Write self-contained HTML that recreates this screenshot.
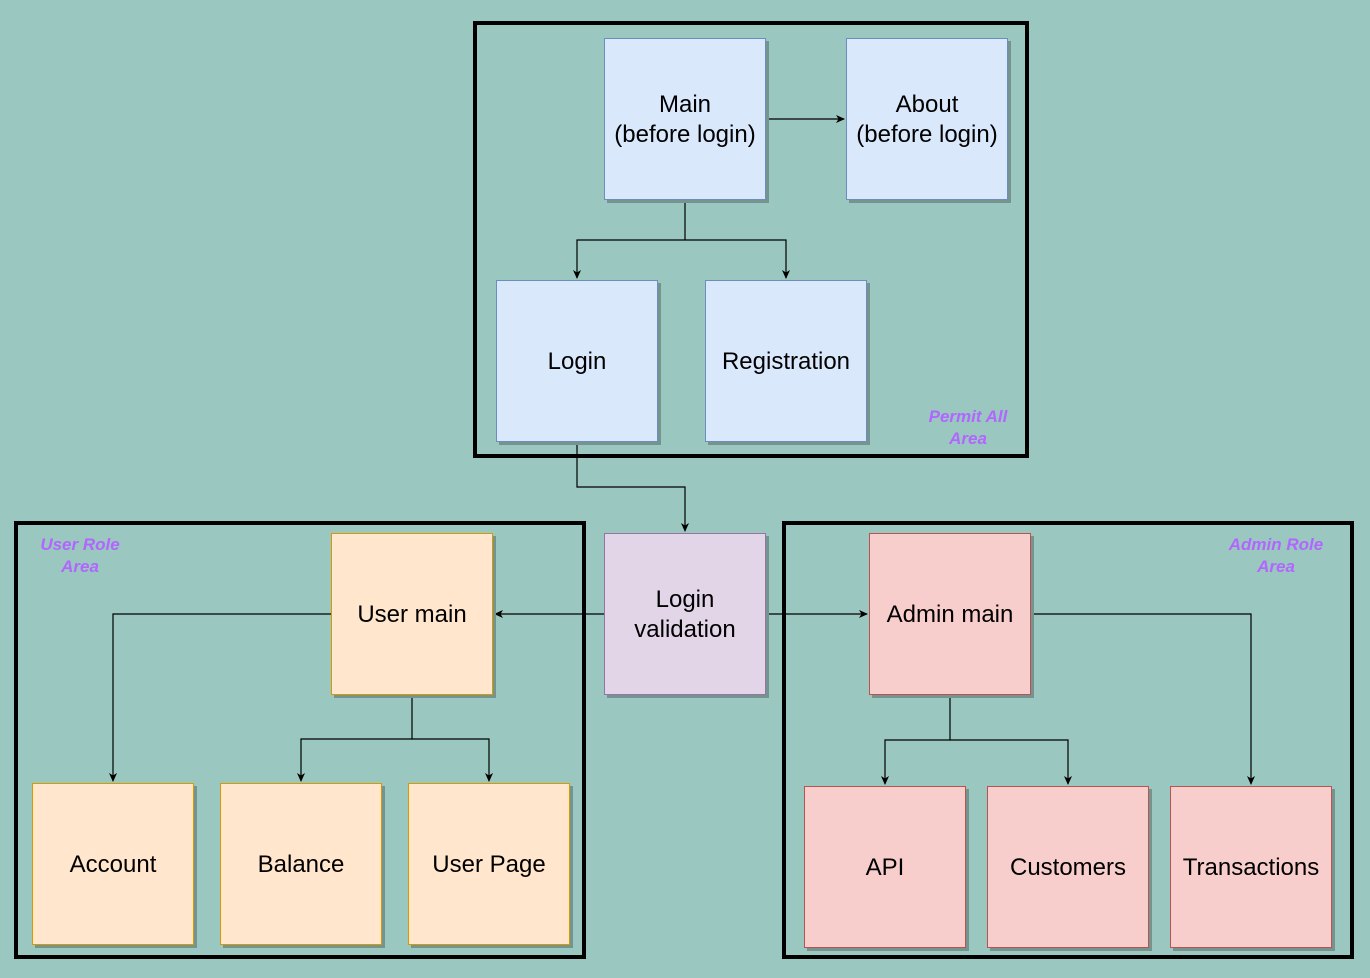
<!DOCTYPE html>
<html><head><style>
html,body{margin:0;padding:0;background:#9AC7BF;}
svg{display:block;}
text{font-family:"Liberation Sans",Arial,sans-serif;}
.t{font-size:24px;fill:#000;text-anchor:middle;}
.p{font-size:17px;font-weight:bold;font-style:italic;fill:#B266FF;text-anchor:middle;}
</style></head><body>
<svg width="1370" height="978" viewBox="0 0 1370 978" xmlns="http://www.w3.org/2000/svg">
<defs>
<marker id="a" markerWidth="10" markerHeight="10" refX="8" refY="5" orient="auto" markerUnits="userSpaceOnUse">
<path d="M0,1 L9,5 L0,9 L2.5,5 Z" fill="#000"/></marker>
</defs>
<rect x="0" y="0" width="1370" height="978" fill="#9AC7BF"/>
<rect x="475" y="23" width="552" height="433" fill="none" stroke="#000" stroke-width="4"/>
<rect x="16" y="523" width="568" height="434" fill="none" stroke="#000" stroke-width="4"/>
<rect x="784" y="523" width="568" height="434" fill="none" stroke="#000" stroke-width="4"/>
<text class="p" x="968" y="422">Permit All</text><text class="p" x="968" y="444">Area</text>
<text class="p" x="80" y="550">User Role</text><text class="p" x="80" y="572">Area</text>
<text class="p" x="1276" y="550">Admin Role</text><text class="p" x="1276" y="572">Area</text>
<g stroke="#000" stroke-width="1.2" fill="none">
<path d="M766,119 H844" marker-end="url(#a)"/>
<path d="M685,200 V240 H577 V278" marker-end="url(#a)"/>
<path d="M685,240 H786 V278" marker-end="url(#a)"/>
<path d="M577,442 V487 H685 V531" marker-end="url(#a)"/>
<path d="M604,614 H495" marker-end="url(#a)"/>
<path d="M766,614 H867" marker-end="url(#a)"/>
<path d="M331,614 H113 V781" marker-end="url(#a)"/>
<path d="M412,695 V739 H301 V781" marker-end="url(#a)"/>
<path d="M412,739 H489 V781" marker-end="url(#a)"/>
<path d="M950,695 V740 H885 V784" marker-end="url(#a)"/>
<path d="M950,740 H1068 V784" marker-end="url(#a)"/>
<path d="M1031,614 H1251 V784" marker-end="url(#a)"/>
</g>
<g>
<g fill="#76948F">
<rect x="607" y="41" width="162" height="162"/><rect x="849" y="41" width="162" height="162"/>
<rect x="499" y="283" width="162" height="162"/><rect x="708" y="283" width="162" height="162"/>
<rect x="607" y="536" width="162" height="162"/><rect x="334" y="536" width="162" height="162"/>
<rect x="872" y="536" width="162" height="162"/>
<rect x="35" y="786" width="162" height="162"/><rect x="223" y="786" width="162" height="162"/><rect x="411" y="786" width="162" height="162"/>
<rect x="807" y="789" width="162" height="162"/><rect x="990" y="789" width="162" height="162"/><rect x="1173" y="789" width="162" height="162"/>
</g>
<g fill="#DAE8FC" stroke="#6C8EBF">
<rect x="604.5" y="38.5" width="161" height="161"/><rect x="846.5" y="38.5" width="161" height="161"/>
<rect x="496.5" y="280.5" width="161" height="161"/><rect x="705.5" y="280.5" width="161" height="161"/>
</g>
<rect x="604.5" y="533.5" width="161" height="161" fill="#E1D5E7" stroke="#9673A6"/>
<g fill="#FFE6CC" stroke="#D79B00">
<rect x="331.5" y="533.5" width="161" height="161"/>
<rect x="32.5" y="783.5" width="161" height="161"/><rect x="220.5" y="783.5" width="161" height="161"/><rect x="408.5" y="783.5" width="161" height="161"/>
</g>
<g fill="#F8CECC" stroke="#B85450">
<rect x="869.5" y="533.5" width="161" height="161"/>
<rect x="804.5" y="786.5" width="161" height="161"/><rect x="987.5" y="786.5" width="161" height="161"/><rect x="1170.5" y="786.5" width="161" height="161"/>
</g>
</g>
<text class="t" x="685" y="112">Main</text><text class="t" x="685" y="142">(before login)</text>
<text class="t" x="927" y="112">About</text><text class="t" x="927" y="142">(before login)</text>
<text class="t" x="577" y="369">Login</text>
<text class="t" x="786" y="369">Registration</text>
<text class="t" x="685" y="607">Login</text><text class="t" x="685" y="637">validation</text>
<text class="t" x="412" y="622">User main</text>
<text class="t" x="950" y="622">Admin main</text>
<text class="t" x="113" y="872">Account</text>
<text class="t" x="301" y="872">Balance</text>
<text class="t" x="489" y="872">User Page</text>
<text class="t" x="885" y="875">API</text>
<text class="t" x="1068" y="875">Customers</text>
<text class="t" x="1251" y="875">Transactions</text>
</svg>
</body></html>
